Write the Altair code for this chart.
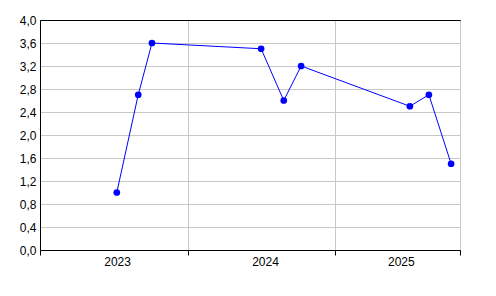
import altair as alt
import pandas as pd

dates = ["2023-07-10", "2023-09-01", "2023-10-05", "2024-07-01", "2024-08-26",
         "2024-10-08", "2025-07-04", "2025-08-20", "2025-10-14"]
values = [1.0, 2.7, 3.6, 3.5, 2.6, 3.2, 2.5, 2.7, 1.5]

year_labels = ["2023", "2024", "2025"]
year_label_dates = ["2023-07-02", "2024-07-02", "2025-06-03"]
y_ticks = [0.0, 0.4, 0.8, 1.2, 1.6, 2.0, 2.4, 2.8, 3.2, 3.6, 4.0]

FONT = "Liberation Sans Narrow, Liberation Sans, Arial"

df = pd.DataFrame({"date": dates, "value": values})
lab = pd.DataFrame({"label": year_labels, "date": year_label_dates})

def dt(y, m, d):
    return alt.DateTime(year=y, month=m, date=d, utc=True)

xscale = alt.Scale(type="utc", domain=[dt(2023, 1, 1), dt(2025, 11, 5)])

x_axis = alt.Axis(
    values=[dt(2023, 1, 1), dt(2024, 1, 1), dt(2025, 1, 1), dt(2025, 11, 5)],
    tickCount=10,
    labels=False, title=None, grid=True, gridColor="#c8c8c8", gridWidth=1,
    ticks=True, tickSize=5, tickColor="black", domainColor="black",
)
y_axis = alt.Axis(
    values=y_ticks, tickCount=20, title=None, grid=True,
    gridColor={"condition": {"test": "datum.value >= 3.99", "value": "black"}, "value": "#c8c8c8"},
    gridWidth=1,
    ticks=False, labelPadding=4, domainColor="black", labelOverlap=False,
    labelExpr="replace(format(datum.value, '.1f'), '.', ',')",
    labelFont=FONT, labelFontSize=12, labelColor="black",
)

base = alt.Chart(df)
line = base.mark_line(color="#0000ff", strokeWidth=1).encode(
    x=alt.X("date:T", scale=xscale, axis=x_axis),
    y=alt.Y("value:Q", scale=alt.Scale(domain=[0, 4], nice=False), axis=y_axis),
)
pts = base.mark_point(filled=True, color="#0000ff", size=45, opacity=1).encode(
    x=alt.X("date:T"),
    y=alt.Y("value:Q"),
)
text = alt.Chart(lab).mark_text(
    font=FONT, fontSize=12, color="black", baseline="alphabetic", align="center", dx=4
).encode(
    x=alt.X("date:T"),
    y=alt.value(246),
    text="label:N",
)

chart = alt.layer(line, pts, text).properties(
    width=420, height=230,
    padding={"left": 40, "top": 20, "right": 36, "bottom": 46},
    autosize="none",
    background="white",
).configure_view(stroke="black", strokeWidth=1)

chart.save("out.html", embed_options={"renderer": "svg", "actions": False})
